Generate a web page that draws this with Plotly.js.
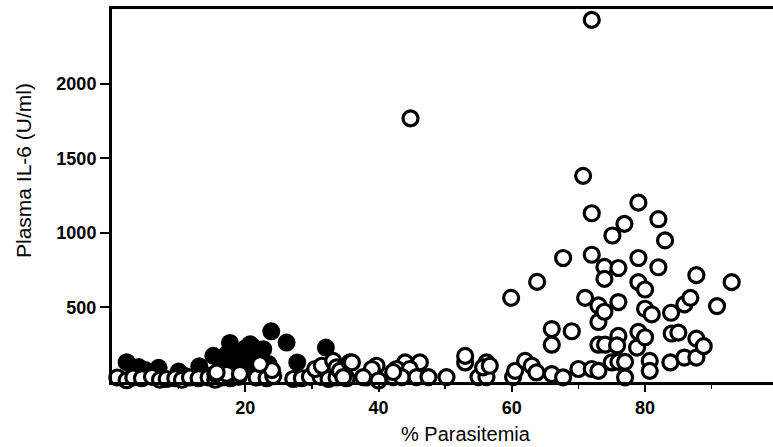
<!DOCTYPE html>
<html>
<head>
<meta charset="utf-8">
<script src="https://cdn.plot.ly/plotly-3.0.1.min.js"></script>
<style>html,body{margin:0;padding:0;background:#fff;}#chart{width:773px;height:447px;}</style>
</head>
<body>
<div id="chart"></div>
<script>
// Filled circles (group 1)
const filledX = [2.2, 4.0, 5.0, 7.0, 10.0, 13.1, 15.2, 16.5, 17.7, 17.3, 19.2, 20.0, 20.7, 21.0, 21.2, 22.2, 22.7, 23.9, 26.2, 27.8, 32.1, 18.5, 20.5, 23.5, 5.5, 13.5, 11.0];
const filledY = [133, 100, 80, 95, 70, 105, 176, 160, 262, 190, 200, 225, 253, 242, 153, 180, 220, 340, 264, 131, 231, 110, 100, 120, 50, 60, 40];

// Open circles (group 2)
const openX = [
  0.8, 2.2, 3.2, 4.5, 6.0, 7.2, 8.2, 9.5, 10.5, 11.7, 13.0, 14.5, 15.5, 16.5, 17.8, 19.0, 21.7, 23.2, 24.2, 27.2, 28.5, 29.7, 31.3, 32.5, 33.7, 35.2,
  15.5, 17.2, 19.2, 24.0, 15.7, 22.2, 30.5, 31.5, 33.2, 33.7, 34.2, 35.7, 38.2,
  36.0, 39.7, 44.0, 46.2, 53.0, 56.2, 39.0, 42.7, 44.7,
  34.7, 37.7, 40.0, 42.2, 43.5, 45.7, 47.5, 50.2, 55.0, 56.2, 60.2,
  53.0, 55.7, 42.2, 44.8, 56.7,
  59.9, 60.5, 62.0, 63.0, 63.7, 63.8, 66.0, 66.0, 66.0, 67.7, 67.7, 69.0, 70.0, 70.7, 71.0, 72.0, 72.0, 72.0, 72.0, 73.0,
  73.0, 73.0, 73.0, 73.9, 73.9, 73.9, 74.0, 75.0, 75.1, 76.0, 76.0, 76.0, 76.0, 75.8, 76.9, 77.0, 77.0, 79.0, 79.0, 79.0,
  79.0, 78.8, 80.0, 80.0, 80.0, 80.7, 80.7, 81.0, 82.0, 82.0, 83.0, 83.9, 83.8, 84.0, 85.0, 85.9, 85.9, 86.8, 87.7, 87.7,
  87.7, 88.8, 90.8, 93.0
];
const openY = [
  30, 12, 30, 25, 35, 15, 20, 25, 15, 30, 25, 30, 15, 30, 25, 35, 30, 25, 40, 20, 25, 35, 35, 20, 30, 25,
  55, 55, 55, 80, 64, 120, 87, 109, 142, 98, 75, 131, 31,
  131, 109, 131, 131, 131, 131, 87, 87, 87,
  33, 33, 10, 33, 33, 33, 33, 33, 33, 33, 33,
  175, 98, 67, 1767, 109,
  564, 75, 142, 109, 64, 671, 53, 355, 250, 831, 31, 340, 87, 1382, 564, 2427, 1131, 853, 87, 75,
  513, 402, 250, 771, 691, 471, 250, 131, 982, 135, 764, 536, 309, 245, 1060, 135, 31, 1202, 831, 669,
  336, 231, 620, 491, 300, 142, 75, 453, 1091, 769, 949, 464, 131, 325, 331, 520, 164, 564, 716, 164,
  291, 240, 509, 669
];

const xTickVals = [20, 40, 60, 80];
const xTickText = ['20', '40', '60', '80'];
const yTickVals = [500, 1000, 1500, 2000];
const yTickText = ['500', '1000', '1500', '2000'];

const fontFam = 'Arial, "Liberation Sans", Helvetica, sans-serif';

const traces = [
  {
    type: 'scatter', mode: 'markers', x: filledX, y: filledY, cliponaxis: false,
    marker: {symbol: 'circle', size: 15, color: '#000', line: {color: '#000', width: 3}},
    hoverinfo: 'skip'
  },
  {
    type: 'scatter', mode: 'markers', x: openX, y: openY, cliponaxis: false,
    marker: {symbol: 'circle', size: 15, color: '#fff', line: {color: '#000', width: 3.2}},
    hoverinfo: 'skip'
  }
];

const layout = {
  width: 773, height: 447,
  margin: {l: 112, r: 0, t: 9, b: 65},
  paper_bgcolor: '#fff', plot_bgcolor: '#fff',
  showlegend: false,
  font: {family: fontFam, color: '#000'},
  xaxis: {
    range: [0, 99.2], showgrid: false, zeroline: false,
    showline: true, linecolor: '#000', linewidth: 3, mirror: true,
    ticks: 'outside', ticklen: 7, tickwidth: 2, tickcolor: '#000',
    tickvals: xTickVals, ticktext: xTickText,
    tickfont: {size: 18, family: fontFam, weight: 'bold'},
    minor: {tickvals: [10, 30, 50, 70, 90], ticks: 'outside', ticklen: 4, tickwidth: 1.5, tickcolor: '#000'}
  },
  yaxis: {
    range: [0, 2500], showgrid: false, zeroline: false,
    showline: true, linecolor: '#000', linewidth: 3, mirror: false,
    ticks: 'outside', ticklen: 9, tickwidth: 2, tickcolor: '#000',
    tickvals: yTickVals, ticktext: yTickText,
    tickfont: {size: 18, family: fontFam, weight: 'bold'}
  },
  annotations: [
    {text: 'Plasma IL-6 (U/ml)', xref: 'paper', yref: 'paper', x: -0.1331, y: 0.5657,
     xanchor: 'center', yanchor: 'middle', textangle: -90, showarrow: false,
     font: {size: 21, family: fontFam, color: '#000'}},
    {text: '% Parasitemia', xref: 'paper', yref: 'paper', x: 0.5356, y: -0.1716,
     xanchor: 'center', yanchor: 'bottom', showarrow: false, borderpad: 0,
     font: {size: 20, family: fontFam, color: '#000'}}
  ]
};

Plotly.newPlot('chart', traces, layout, {displayModeBar: false, staticPlot: true});
</script>
</body>
</html>
